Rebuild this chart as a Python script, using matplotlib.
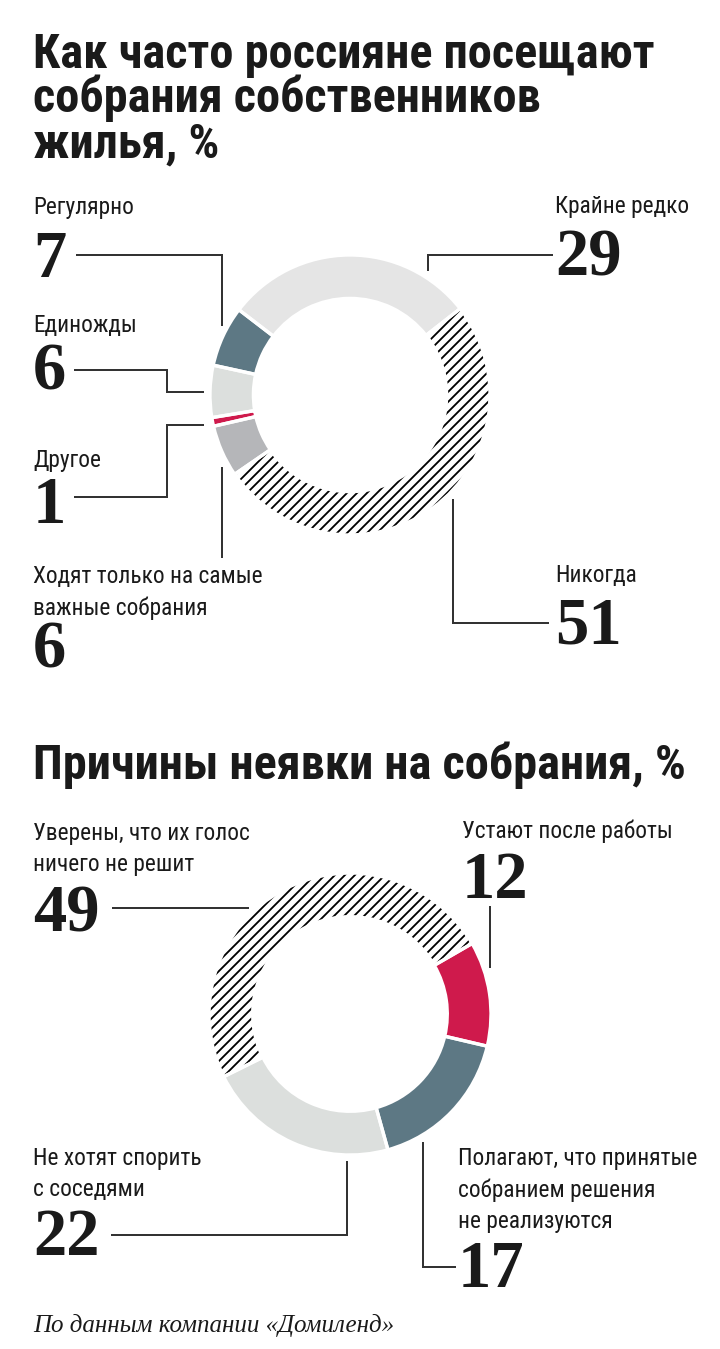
import matplotlib.pyplot as plt
import matplotlib.font_manager as fm

# data
freq_labels = ['Крайне редко', 'Никогда', 'Ходят только на самые\nважные собрания',
               'Другое', 'Единожды', 'Регулярно']
freq_values = [29, 51, 6, 1, 6, 7]
freq_colors = ['#e5e5e5', 'white', '#b5b6b9', '#cf1a4c', '#dcdfdd', '#5d7884']
freq_hatch = [None, '////', None, None, None, None]

reason_labels = ['Устают после работы',
                 'Полагают, что принятые\nсобранием решения\nне реализуются',
                 'Не хотят спорить\nс соседями',
                 'Уверены, что их голос\nничего не решит']
reason_values = [12, 17, 22, 49]
reason_colors = ['#cf1a4c', '#5d7884', '#dcdfdd', 'white']
reason_hatch = [None, None, None, '////']

title1 = ['Как часто россияне посещают', 'собрания собственников', 'жилья, %']
title2 = 'Причины неявки на собрания, %'
source = 'По данным компании «Домиленд»'

avail = {f.name for f in fm.fontManager.ttflist}
def pick(*names):
    return next((n for n in names if n in avail), 'DejaVu Sans')
SANS = pick('Roboto Condensed', 'Liberation Sans Narrow', 'Open Sans Condensed', 'Roboto')
SERIF = pick('Liberation Serif', 'DejaVu Serif')

W, H, DPI = 720, 1349, 120
plt.rcParams['hatch.linewidth'] = 1.1
fig = plt.figure(figsize=(W / DPI, H / DPI), dpi=DPI)
ax = fig.add_axes([0, 0, 1, 1])
ax.set_xlim(0, W)
ax.set_ylim(H, 0)
ax.axis('off')

ink = '#1a1a1a'
line_col = '#333333'


def donut(cx, cy, r, values, colors, hatches, start):
    a = fig.add_axes([(cx - r) / W, 1 - (cy + r) / H, 2 * r / W, 2 * r / H])
    wedges, _ = a.pie(values, colors=colors, startangle=start, counterclock=False,
                      radius=1.0, wedgeprops=dict(width=0.31, linewidth=0, edgecolor='black'))
    for w, h in zip(wedges, hatches):
        if h:
            w.set_hatch(h)
    # white gaps between the segments
    a.pie(values, startangle=start, counterclock=False, radius=1.0,
          wedgeprops=dict(width=0.31, fill=False, linewidth=2.0, edgecolor='white'))
    a.set_xlim(-1, 1)
    a.set_ylim(-1, 1)
    a.axis('off')


def label(x, y, text, value, y_num, leader):
    for i, ln in enumerate(text.split('\n')):
        ax.text(x, y + i * 31.5, ln, family=SANS, fontsize=14, color=ink, va='baseline')
    ax.text(x, y_num, str(value), family=SERIF, fontweight='bold', fontsize=40,
            color=ink, va='baseline')
    xs, ys = zip(*leader)
    ax.plot(xs, ys, color=line_col, lw=1.2, solid_joinstyle='miter')


# titles
for i, ln in enumerate(title1):
    ax.text(33, 68 + i * 44.5, ln, family=SANS, fontweight='bold', fontsize=29,
            color=ink, va='baseline')
ax.text(33, 779, title2, family=SANS, fontweight='bold', fontsize=29, color=ink,
        va='baseline')

# first donut
donut(350, 395, 140, freq_values, freq_colors, freq_hatch, 142.5)
label(555, 213, freq_labels[0], freq_values[0], 275, [(552, 255), (428, 255), (428, 270)])
label(555, 582, freq_labels[1], freq_values[1], 643, [(453, 500), (453, 623), (548, 623)])
label(33, 583, freq_labels[2], freq_values[2], 667, [(222, 468), (222, 557)])
label(33, 467, freq_labels[3], freq_values[3], 523,
      [(75, 497), (167, 497), (167, 425), (203, 425)])
label(33, 332, freq_labels[4], freq_values[4], 390,
      [(75, 370), (167, 370), (167, 392), (203, 392)])
label(33, 214, freq_labels[5], freq_values[5], 277, [(77, 255), (222, 255), (222, 325)])

# second donut
donut(350, 1014, 141, reason_values, reason_colors, reason_hatch, 30)
label(462, 838, reason_labels[0], reason_values[0], 898, [(490, 907), (490, 967)])
label(458, 1165, reason_labels[1], reason_values[1], 1287,
      [(423, 1143), (423, 1267), (455, 1267)])
label(33, 1165, reason_labels[2], reason_values[2], 1255,
      [(112, 1235), (347, 1235), (347, 1162)])
label(33, 840, reason_labels[3], reason_values[3], 932, [(113, 908), (248, 908)])

ax.text(33, 1332, source, family=SERIF, style='italic', fontsize=15, color=ink,
        va='baseline')

fig.savefig('out.png', dpi=DPI, facecolor='white')
